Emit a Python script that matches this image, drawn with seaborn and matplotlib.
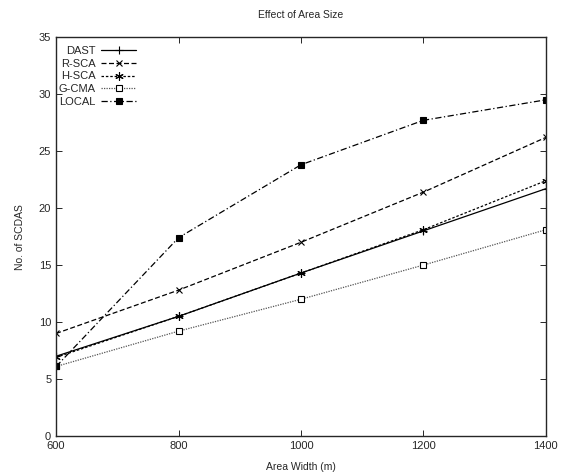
import matplotlib
matplotlib.use("Agg")
import matplotlib.pyplot as plt
import seaborn as sns
import pandas as pd

widths = [600, 800, 1000, 1200, 1400]
dast = [7.0, 10.5, 14.3, 18.0, 21.7]
rsca = [9.0, 12.8, 17.0, 21.4, 26.2]
hsca = [6.9, 10.5, 14.3, 18.1, 22.4]
gcma = [6.1, 9.2, 12.0, 15.0, 18.1]
local = [6.1, 17.4, 23.8, 27.7, 29.5]
names = ["DAST", "R-SCA", "H-SCA", "G-CMA", "LOCAL"]
series = [dast, rsca, hsca, gcma, local]

sns.set_style("ticks")
plt.rcParams['font.family'] = ['Liberation Sans', 'DejaVu Sans']

fig = plt.figure(figsize=(5.61, 4.76), dpi=100)
ax = fig.add_axes([0.1, 0.084, 0.873, 0.838])

styles = {
    "DAST":  dict(color="black", marker="+", ls="-", mfc="black", ms=6),
    "R-SCA": dict(color="black", marker="x", ls=(0, (4, 2)), mfc="black", ms=5),
    "H-SCA": dict(color="black", marker=(6, 2, 0), ls=(0, (2, 1.5)), mfc="black", ms=6),
    "G-CMA": dict(color="#555555", marker="s", ls=(0, (1, 1)), mfc="white", ms=5),
    "LOCAL": dict(color="black", marker="s", ls=(0, (5, 2, 1, 2)), mfc="black", ms=4.5),
}

handles = []
for n, vals in zip(names, series):
    st = styles[n]
    d = pd.DataFrame({"width": widths, "value": vals})
    sns.lineplot(data=d, x="width", y="value", ax=ax, color=st["color"],
                 linewidth=0.9, legend=False)
    line = ax.get_lines()[-1]
    line.set_linestyle(st["ls"])
    line.set_marker(st["marker"])
    line.set_markersize(st["ms"])
    line.set_markerfacecolor(st["mfc"])
    line.set_markeredgecolor("black")
    line.set_markeredgewidth(0.8)
    handles.append(line)

# error bar on LOCAL at 1400
ax.errorbar([widths[-1]], [local[-1]], yerr=[[0.4], [0.5]], fmt="none", ecolor="black", elinewidth=0.7, capsize=0)

ax.set_xlim(600, 1400)
ax.set_ylim(0, 35)
ax.set_xticks(widths)
ax.set_yticks(range(0, 36, 5))
ax.tick_params(direction="in", top=True, right=True, labelsize=8, length=4, width=0.7)
for s in ax.spines.values():
    s.set_visible(True)
    s.set_linewidth(1.0)
ax.set_xlabel("Area Width (m)", fontsize=7.5, labelpad=8)
ax.set_ylabel("No. of SCDAS", fontsize=7.5, labelpad=10)
ax.set_title("Effect of Area Size", fontsize=7.5, pad=14)

leg = ax.legend(handles=handles, labels=names, loc="upper left",
                bbox_to_anchor=(0.0, 0.985),
                frameon=False, markerfirst=False, fontsize=8, handlelength=3.2,
                labelspacing=0.25, borderaxespad=0.0, borderpad=0.25, handletextpad=0.45)

fig.savefig("out.png", dpi=100)
